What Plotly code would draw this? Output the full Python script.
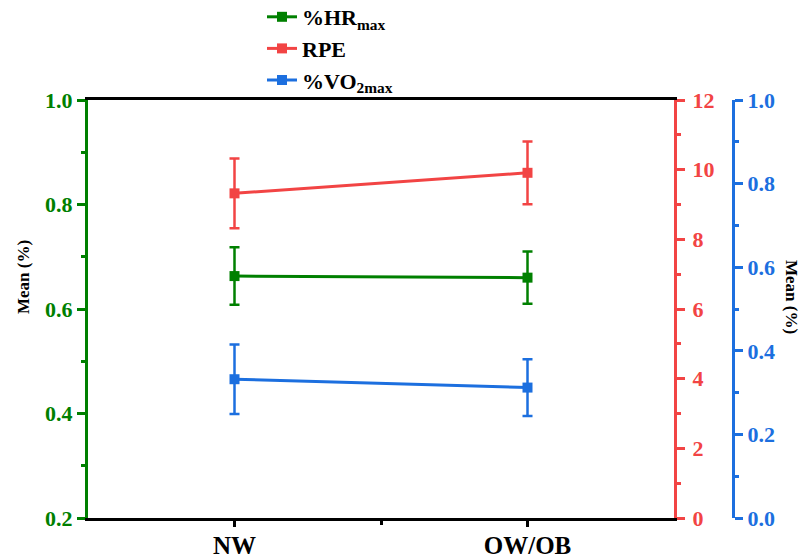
import plotly.graph_objects as go

categories = ["NW", "OW/OB"]
hr_mean = [0.663, 0.660]
hr_err = [0.055, 0.050]
rpe_mean = [9.32, 9.91]
rpe_err = [1.00, 0.90]
vo2_mean = [0.332, 0.312]
vo2_err = [0.083, 0.068]

GREEN = "#008000"
RED = "#F24444"
BLUE = "#1C6FDF"
FONT = "Liberation Serif"

xpos = list(range(1, len(categories) + 1))

fig = go.Figure()

def add(name, y, err, color, axis):
    fig.add_trace(go.Scatter(
        x=xpos, y=y, name=name, yaxis=axis, mode="lines+markers",
        line=dict(color=color, width=3),
        marker=dict(symbol="square", size=10, color=color),
        error_y=dict(type="data", array=err, visible=True, color=color,
                     thickness=2.5, width=5),
        cliponaxis=False,
    ))

add("%HR<sub>max</sub>", hr_mean, hr_err, GREEN, "y")
add("RPE", rpe_mean, rpe_err, RED, "y2")
add("%VO<sub>2max</sub>", vo2_mean, vo2_err, BLUE, "y3")

W_DOM = (674 - 88) / (733 - 88)

fig.update_layout(
    width=800, height=558,
    margin=dict(l=88, r=67, t=100, b=40, autoexpand=False),
    paper_bgcolor="white", plot_bgcolor="white",
    font=dict(family=FONT, color="black"),
    showlegend=True,
    legend=dict(
        x=(262 - 88) / 645, y=(518 + 4) / 418, xanchor="left", yanchor="top",
        font=dict(family=FONT, size=22, color="black", weight="bold"),
        bgcolor="rgba(0,0,0,0)", tracegroupgap=0, itemwidth=30,
    ),
    xaxis=dict(
        domain=[0, W_DOM], range=[0.5, 2.5], automargin=False,
        tickmode="array", tickvals=xpos, ticktext=categories,
        showline=True, linecolor="black", linewidth=3, mirror=True,
        ticks="outside", ticklen=6, tickwidth=2.5, tickcolor="black",
        minor=dict(tickvals=[1.5], ticks="outside", ticklen=4, tickwidth=2.5, tickcolor="black"),
        showgrid=False, zeroline=False,
        tickfont=dict(family=FONT, size=25, color="black", weight="bold"),
        ticklabelstandoff=-3,
    ),
    yaxis=dict(
        range=[0.2, 1.0], dtick=0.2, tickformat=".1f", automargin=False,
        showline=True, linecolor=GREEN, linewidth=3,
        ticks="outside", ticklen=8, tickwidth=2.5, tickcolor=GREEN,
        minor=dict(dtick=0.1, ticks="outside", ticklen=4, tickwidth=2.5, tickcolor=GREEN),
        showgrid=False, zeroline=False,
        tickfont=dict(family=FONT, size=22, color=GREEN, weight="bold"),
    ),
    yaxis2=dict(
        range=[0, 12], dtick=2, overlaying="y", side="right", anchor="x", automargin=False,
        showline=True, linecolor=RED, linewidth=3,
        ticks="outside", ticklen=8, tickwidth=2.5, tickcolor=RED,
        minor=dict(dtick=1, ticks="outside", ticklen=4, tickwidth=2.5, tickcolor=RED),
        showgrid=False, zeroline=False,
        tickfont=dict(family=FONT, size=22, color=RED, weight="bold"),
        ticklabelstandoff=3,
    ),
    yaxis3=dict(
        range=[0, 1.0], dtick=0.2, tickformat=".1f", overlaying="y", side="right",
        anchor="free", position=1.0, automargin=False,
        showline=True, linecolor=BLUE, linewidth=3,
        ticks="outside", ticklen=8, tickwidth=2.5, tickcolor=BLUE,
        minor=dict(dtick=0.1, ticks="outside", ticklen=4, tickwidth=2.5, tickcolor=BLUE),
        showgrid=False, zeroline=False,
        tickfont=dict(family=FONT, size=22, color=BLUE, weight="bold"),
    ),
    annotations=[
        dict(text="Mean (%)", xref="paper", yref="paper",
             x=(23 - 88) / 645, y=(518 - 277) / 418, textangle=-90,
             showarrow=False, xanchor="center", yanchor="middle",
             font=dict(family=FONT, size=17, color="black", weight="bold")),
        dict(text="Mean (%)", xref="paper", yref="paper",
             x=(792 - 88) / 645, y=(518 - 297) / 418, textangle=90,
             showarrow=False, xanchor="center", yanchor="middle",
             font=dict(family=FONT, size=17, color="black", weight="bold")),
    ],
)

fig.write_html("out.html")
